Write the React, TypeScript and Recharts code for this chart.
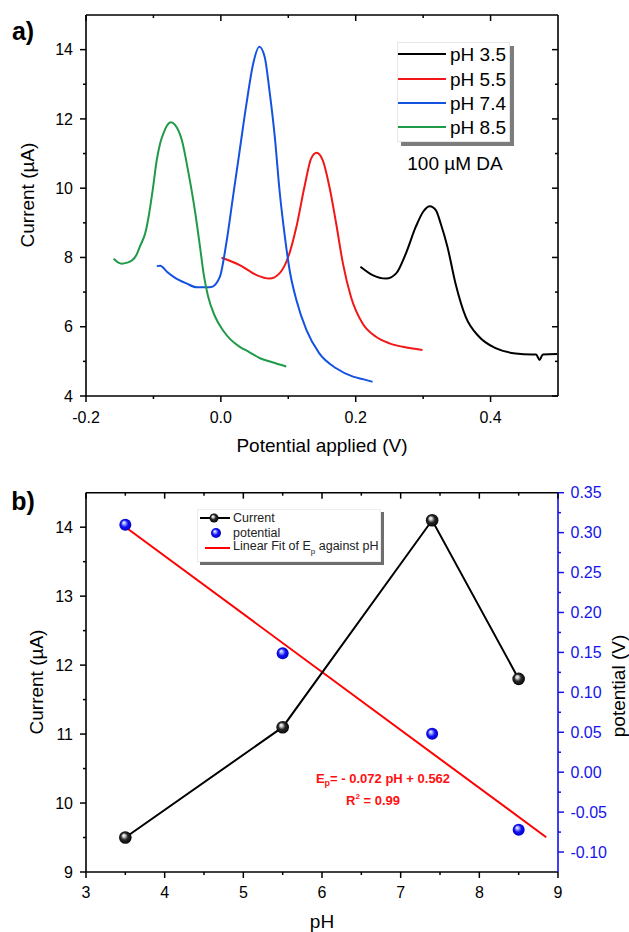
import React from "react";
import { LineChart, ComposedChart, Line, XAxis, YAxis } from "recharts";

const FONT = "Arial, 'Liberation Sans', Helvetica, sans-serif";

// ---------- panel a: DPV scans, [potential (V), current (µA)] ----------
const scanPh35 = [
  [0.207, 7.73], [0.225, 7.49], [0.245, 7.39], [0.26, 7.54], [0.2745, 8.12],
  [0.289, 8.88], [0.3, 9.32], [0.31, 9.48], [0.319, 9.36], [0.326, 8.98],
  [0.336, 8.31], [0.348, 7.25], [0.363, 6.29], [0.383, 5.71], [0.4075, 5.38],
  [0.437, 5.23], [0.4616, 5.2], [0.4675, 5.2], [0.4726, 5.04], [0.4775, 5.2],
  [0.4986, 5.21],
];
const scanPh55 = [
  [0.001, 7.99], [0.028, 7.78], [0.053, 7.49], [0.072, 7.39], [0.087, 7.54],
  [0.1, 8.02], [0.112, 8.88], [0.124, 10.04], [0.134, 10.86], [0.142, 11.02],
  [0.151, 10.81], [0.161, 10.04], [0.171, 8.98], [0.181, 7.83], [0.193, 6.86],
  [0.21, 6.1], [0.23, 5.71], [0.25, 5.52], [0.27, 5.42], [0.299, 5.33],
];
const scanPh74 = [
  [-0.095, 7.75], [-0.09, 7.76], [-0.08, 7.59], [-0.07, 7.44], [-0.051, 7.25],
  [-0.036, 7.14], [-0.021, 7.14], [-0.014, 7.15], [-0.0015, 7.44], [0.008, 8.4],
  [0.018, 9.75], [0.028, 11.1], [0.038, 12.44], [0.048, 13.6], [0.057, 14.08],
  [0.065, 13.79], [0.072, 12.83], [0.08, 11.48], [0.087, 9.94], [0.095, 8.59],
  [0.102, 7.63], [0.112, 6.77], [0.127, 5.9], [0.146, 5.23], [0.171, 4.8],
  [0.196, 4.56], [0.212, 4.48], [0.225, 4.41],
];
const scanPh85 = [
  [-0.159, 7.96], [-0.152, 7.85], [-0.147, 7.82], [-0.139, 7.85], [-0.132, 7.91],
  [-0.125, 8.08], [-0.12, 8.32], [-0.112, 8.71], [-0.107, 9.19], [-0.101, 9.96],
  [-0.095, 10.82], [-0.09, 11.3], [-0.085, 11.59], [-0.08, 11.8], [-0.074, 11.9],
  [-0.068, 11.83], [-0.058, 11.4], [-0.048, 10.44], [-0.038, 9.29], [-0.031, 8.32],
  [-0.025, 7.46], [-0.019, 6.88], [-0.009, 6.31], [0.003, 5.9], [0.015, 5.62],
  [0.028, 5.42], [0.042, 5.27], [0.058, 5.09], [0.075, 4.98], [0.097, 4.85],
];
const scanNames = ["pH 3.5", "pH 5.5", "pH 7.4", "pH 8.5"];
const scanColors = ["#000000", "#f21616", "#1452e0", "#1f9a48"];

const aXMajor = [-0.2, 0, 0.2, 0.4];
const aXMinor = [-0.1, 0.1, 0.3];
const aYMajor = [4, 6, 8, 10, 12, 14];
const aYMinor = [5, 7, 9, 11, 13];

// ---------- panel b: peak current / potential vs pH ----------
const phValues = [3.5, 5.5, 7.4, 8.5];
const peakCurrent = [9.5, 11.1, 14.1, 11.8];
const peakPotential = [0.31, 0.149, 0.048, -0.072];
const fitPh = [3.5, 8.85];
const fitPotential = [0.307, -0.0815];

const bXMajor = [3, 4, 5, 6, 7, 8, 9];
const bXMinor = [3.5, 4.5, 5.5, 6.5, 7.5, 8.5];
const bYMajor = [9, 10, 11, 12, 13, 14];
const bYMinor = [9.5, 10.5, 11.5, 12.5, 13.5];
const bRMajor = [-0.1, -0.05, 0, 0.05, 0.1, 0.15, 0.2, 0.25, 0.3, 0.35];
const bRMinor = [-0.075, -0.025, 0.025, 0.075, 0.125, 0.175, 0.225, 0.275, 0.325];

const toXY = (arr: number[][]) => arr.map(([x, y]) => ({ x, y }));
const scans = [scanPh35, scanPh55, scanPh74, scanPh85].map(toXY);
const currentRows = phValues.map((ph, i) => ({ x: ph, y: peakCurrent[i] }));
const potentialRows = phValues.map((ph, i) => ({ x: ph, y: peakPotential[i] }));
const fitRows = fitPh.map((ph, i) => ({ x: ph, y: fitPotential[i] }));

const sorted = (a: number[], b: number[]) => [...a, ...b].sort((p, q) => p - q);

type TickOpt = {
  side: "bottom" | "left" | "right" | "top";
  major: number[];
  inward?: boolean;
  color?: string;
  fmt?: (v: number) => string;
  gap?: number;
};

// draws tick marks (long for major, short for minor) and major labels
const makeTick = (o: TickOpt) => (props: any) => {
  const { x, y, payload, index } = props;
  const v = payload.value;
  const big = o.major.some((m) => Math.abs(m - v) < 1e-6);
  const len = big ? 6 : 3;
  const s = o.inward ? -1 : 1;
  const c = o.color || "#000";
  const fs = 16;
  const gap = o.gap || 13;
  let x2 = x, y2 = y;
  let label = null;
  const txt = big && o.fmt ? o.fmt(v) : null;
  if (o.side === "bottom") {
    y2 = y + s * len;
    if (txt) label = <text x={x} y={y + gap + fs * 0.35} textAnchor="middle" fill={c} fontSize={fs} fontFamily={FONT}>{txt}</text>;
  } else if (o.side === "top") {
    y2 = y - s * len;
  } else if (o.side === "left") {
    x2 = x - s * len;
    if (txt) label = <text x={x - gap} y={y + fs * 0.35} textAnchor="end" fill={c} fontSize={fs} fontFamily={FONT}>{txt}</text>;
  } else {
    x2 = x + s * len;
    if (txt) label = <text x={x + gap} y={y + fs * 0.35} textAnchor="start" fill={c} fontSize={fs} fontFamily={FONT}>{txt}</text>;
  }
  return (
    <g key={`t-${index}`}>
      <line x1={x} y1={y} x2={x2} y2={y2} stroke={c} strokeWidth={1.5} />
      {label}
    </g>
  );
};

const axisBase = {
  type: "number" as const,
  allowDataOverflow: true,
  interval: 0 as const,
  tickLine: false,
  tickSize: 0,
  tickMargin: 0,
};
const blackLine = { stroke: "#000", strokeWidth: 1.6 };

const Txt = ({ x, y, size = 19, rotate = 0, color = "#000", bold = false, left = false, children }: any) => (
  <div
    style={{
      position: "absolute",
      left: x,
      top: y,
      transform: `translate(${left ? "0" : "-50%"}, -50%) rotate(${rotate}deg)`,
      fontSize: size,
      color,
      fontWeight: bold ? 700 : 400,
      whiteSpace: "nowrap",
      lineHeight: 1,
    }}
  >
    {children}
  </div>
);

const ball = (id: string, r: number) => (p: any) =>
  p.cx == null ? <g key={`b-${p.index}`} /> : <circle key={`b-${p.index}`} cx={p.cx} cy={p.cy} r={r} fill={`url(#${id})`} />;

const Gradients = ({ k, b }: { k: string; b: string }) => (
  <defs>
    <radialGradient id={k} cx="0.5" cy="0.5" r="0.55" fx="0.36" fy="0.32">
      <stop offset="0" stopColor="#ffffff" />
      <stop offset="0.2" stopColor="#cfcfcf" />
      <stop offset="0.5" stopColor="#2a2a2a" />
      <stop offset="1" stopColor="#000000" />
    </radialGradient>
    <radialGradient id={b} cx="0.5" cy="0.5" r="0.55" fx="0.36" fy="0.32">
      <stop offset="0" stopColor="#ffffff" />
      <stop offset="0.2" stopColor="#a9b4ff" />
      <stop offset="0.55" stopColor="#1010f5" />
      <stop offset="1" stopColor="#0000b8" />
    </radialGradient>
  </defs>
);

function PanelA() {
  const xt = sorted(aXMajor, aXMinor);
  const yt = sorted(aYMajor, aYMinor);
  return (
    <LineChart width={629} height={460} margin={{ top: 14, right: 70, bottom: 0, left: 0 }}>
      <XAxis {...axisBase} dataKey="x" domain={[-0.2, 0.5]} ticks={xt} height={64} axisLine={blackLine}
        tick={makeTick({ side: "bottom", major: aXMajor, fmt: (v) => v.toFixed(1), gap: 21 })} />
      <XAxis {...axisBase} xAxisId="t" orientation="top" dataKey="x" domain={[-0.2, 0.5]} ticks={xt} height={1}
        axisLine={blackLine} tick={makeTick({ side: "top", major: aXMajor, inward: true })} />
      <YAxis {...axisBase} domain={[4, 15]} ticks={yt} width={86} axisLine={blackLine}
        tick={makeTick({ side: "left", major: aYMajor, fmt: (v) => String(v), gap: 13 })} />
      <YAxis {...axisBase} yAxisId="r" orientation="right" domain={[4, 15]} ticks={yt} width={1}
        axisLine={blackLine} tick={makeTick({ side: "right", major: aYMajor, inward: true })} />
      {scans.map((d, i) => (
        <Line key={scanNames[i]} name={scanNames[i]} data={d} dataKey="y" type="monotone"
          stroke={scanColors[i]} strokeWidth={2} dot={false} activeDot={false} isAnimationActive={false} />
      ))}
    </LineChart>
  );
}

function PanelB() {
  return (
    <ComposedChart width={629} height={472} margin={{ top: 31.7, right: 0, bottom: 0, left: 0 }}>
      <Gradients k="ballK" b="ballB" />
      <XAxis {...axisBase} dataKey="x" domain={[3, 9]} ticks={sorted(bXMajor, bXMinor)} height={60} axisLine={blackLine}
        tick={makeTick({ side: "bottom", major: bXMajor, fmt: (v) => String(v), gap: 20 })} />
      <XAxis {...axisBase} xAxisId="t" orientation="top" dataKey="x" domain={[3, 9]} ticks={sorted(bXMajor, bXMinor)}
        height={1} axisLine={blackLine} tick={makeTick({ side: "top", major: bXMajor, inward: true })} />
      <YAxis {...axisBase} yAxisId="cur" domain={[9, 14.5]} ticks={sorted(bYMajor, bYMinor)} width={86}
        axisLine={blackLine} tick={makeTick({ side: "left", major: bYMajor, fmt: (v) => String(v), gap: 13 })} />
      <YAxis {...axisBase} yAxisId="pot" orientation="right" domain={[-0.125, 0.35]} ticks={sorted(bRMajor, bRMinor)}
        width={71} axisLine={{ stroke: "#1010f0", strokeWidth: 1.6 }}
        tick={makeTick({ side: "right", major: bRMajor, color: "#1414ee", fmt: (v) => v.toFixed(2), gap: 12.5 })} />
      <Line yAxisId="pot" name="Linear Fit" data={fitRows} dataKey="y" type="linear" stroke="#ff0000"
        strokeWidth={2} dot={false} activeDot={false} isAnimationActive={false} />
      <Line yAxisId="cur" name="Current" data={currentRows} dataKey="y" type="linear" stroke="#000"
        strokeWidth={2} dot={ball("ballK", 6.3)} activeDot={false} isAnimationActive={false} />
      <Line yAxisId="pot" name="potential" data={potentialRows} dataKey="y" type="linear" stroke="none"
        strokeWidth={0} dot={ball("ballB", 6)} activeDot={false} isAnimationActive={false} />
    </ComposedChart>
  );
}

export default function App() {
  const rowsA = [54.3, 78.5, 103, 127.3];
  return (
    <div style={{ position: "absolute", left: 0, top: 0, width: 629, height: 932, overflow: "hidden", background: "#fff", fontFamily: FONT }}>
      <div style={{ position: "absolute", left: 0, top: 0 }}>
        <PanelA />
      </div>
      <div style={{ position: "absolute", left: 0, top: 460 }}>
        <PanelB />
      </div>

      {/* panel a texts */}
      <Txt x={23} y={31} size={25} bold>a)</Txt>
      <Txt x={27} y={195} rotate={-90}>Current (µA)</Txt>
      <Txt x={322} y={445}>Potential applied (V)</Txt>
      <div style={{ position: "absolute", left: 397, top: 42, width: 113, height: 100, background: "#fff", border: "1px solid #e6e6e6", boxShadow: "4px 4px 0 #7d7d7d", boxSizing: "border-box" }} />
      {scanNames.map((n, i) => (
        <React.Fragment key={n}>
          <svg style={{ position: "absolute", left: 398, top: rowsA[i] - 3 }} width={48} height={6}>
            <line x1={0} y1={3} x2={48} y2={3} stroke={scanColors[i]} strokeWidth={2} />
          </svg>
          <Txt x={450} y={rowsA[i]} left>{n}</Txt>
        </React.Fragment>
      ))}
      <Txt x={455} y={163}>100 µM DA</Txt>

      {/* panel b texts */}
      <Txt x={23} y={501} size={25} bold>b)</Txt>
      <Txt x={36} y={682} rotate={-90}>Current (µA)</Txt>
      <Txt x={322} y={921}>pH</Txt>
      <Txt x={618} y={686} rotate={-90}>potential (V)</Txt>
      <div style={{ position: "absolute", left: 197, top: 509, width: 184, height: 53, background: "#fff", border: "1px solid #ececec", boxShadow: "3px 3px 0 #6e6e6e", boxSizing: "border-box" }} />
      <svg style={{ position: "absolute", left: 199, top: 511 }} width={34} height={46}>
        <Gradients k="lgK" b="lgB" />
        <line x1={1} y1={7} x2={31} y2={7} stroke="#000" strokeWidth={2} />
        <circle cx={15} cy={7} r={4.5} fill="url(#lgK)" />
        <circle cx={17} cy={22} r={5} fill="url(#lgB)" />
        <line x1={6} y1={37} x2={31} y2={37} stroke="#ff0000" strokeWidth={2} />
      </svg>
      <Txt x={233} y={518} size={12.5} color="#222" left>Current</Txt>
      <Txt x={233} y={533} size={12.5} color="#222" left>potential</Txt>
      <Txt x={233} y={548} size={12.5} color="#222" left>
        Linear Fit of E<sub style={{ fontSize: 8 }}>p</sub> against pH
      </Txt>
      <Txt x={383} y={780} size={13} color="#ff1010" bold>
        E<sub style={{ fontSize: 9 }}>p</sub>= - 0.072 pH + 0.562
      </Txt>
      <Txt x={373} y={800} size={13} color="#ff1010" bold>
        R<sup style={{ fontSize: 8 }}>2</sup> = 0.99
      </Txt>
    </div>
  );
}
